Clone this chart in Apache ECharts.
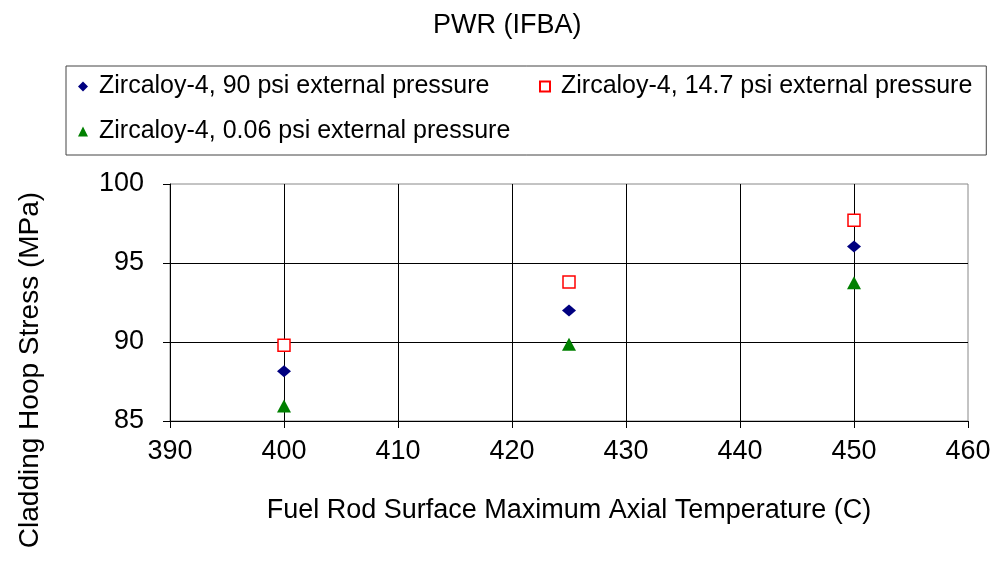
<!DOCTYPE html>
<html>
<head>
<meta charset="utf-8">
<script src="https://cdn.jsdelivr.net/npm/echarts@6/dist/echarts.min.js"></script>
<style>html,body{margin:0;padding:0;background:#fff}#c{width:994px;height:562px}</style>
</head>
<body>
<div id="c"></div>
<script>
var temperatures = [400, 425, 450];
var psi90 = [88.15, 92.0, 96.05];
var psi14 = [89.8, 93.8, 97.7];
var psi006 = [85.95, 89.85, 93.75];
var seriesNames = [
  'Zircaloy-4, 90 psi external pressure',
  'Zircaloy-4, 14.7 psi external pressure',
  'Zircaloy-4, 0.06 psi external pressure'
];
var xTicks = {min: 390, max: 460, interval: 10};
var yTicks = {min: 85, max: 100, interval: 5};
var titleText = 'PWR (IFBA)';
var xName = 'Fuel Rod Surface Maximum Axial Temperature (C)';
var yName = 'Cladding Hoop Stress (MPa)';

function pairs(xs, ys) { return xs.map(function (x, i) { return [x, ys[i]]; }); }

var FONT = 'Liberation Sans, Arial, sans-serif';
var chart = echarts.init(document.getElementById('c'), null, {renderer: 'canvas'});
chart.setOption({
  animation: false,
  backgroundColor: '#fff',
  title: {
    text: titleText, left: 428, top: 7,
    textStyle: {fontFamily: FONT, fontSize: 27, fontWeight: 'normal', color: '#000'}
  },
  legend: {
    left: 66, top: 66, width: 920,
    orient: 'horizontal',
    padding: [3, 14, 6, 12],
    itemGap: 10,
    itemWidth: 10, itemHeight: 10,
    symbolKeepAspect: true,
    borderColor: '#444', borderWidth: 1,
    selectedMode: false,
    textStyle: {fontFamily: FONT, fontSize: 25, color: '#000', lineHeight: 35, padding: [0, 0, 0, 6]},
    data: [
      {name: seriesNames[0], textStyle: {width: 430}},
      {name: seriesNames[1]},
      {name: seriesNames[2]}
    ]
  },
  grid: {left: 170, right: 26, top: 184, bottom: 141, show: true, borderColor: '#888', borderWidth: 1, containLabel: false},
  xAxis: {
    type: 'value', min: xTicks.min, max: xTicks.max, interval: xTicks.interval,
    name: xName, nameLocation: 'middle', nameGap: 76,
    nameTextStyle: {fontFamily: FONT, fontSize: 27, color: '#000'},
    axisLine: {show: true, onZero: false, lineStyle: {color: '#000', width: 1}},
    axisTick: {show: true, inside: false, length: 7, lineStyle: {color: '#000'}},
    axisLabel: {fontFamily: FONT, fontSize: 27, color: '#000', margin: 17},
    splitLine: {show: true, showMinLine: false, showMaxLine: false, lineStyle: {color: '#000', width: 1}}
  },
  yAxis: {
    type: 'value', min: yTicks.min, max: yTicks.max, interval: yTicks.interval,
    axisLine: {show: true, onZero: false, lineStyle: {color: '#000', width: 1}},
    axisTick: {show: true, inside: false, length: 7, lineStyle: {color: '#000'}},
    axisLabel: {fontFamily: FONT, fontSize: 27, color: '#000', margin: 26},
    splitLine: {show: true, showMinLine: false, showMaxLine: false, lineStyle: {color: '#000', width: 1}}
  },
  graphic: [{
    type: 'text', x: 30, y: 370, rotation: Math.PI / 2,
    style: {text: yName, fontFamily: FONT, fontSize: 28, fill: '#000', align: 'center', verticalAlign: 'middle'}
  }],
  series: [
    {name: seriesNames[0], type: 'scatter', symbol: 'diamond', symbolSize: [14, 12],
     itemStyle: {color: '#000080', opacity: 1}, data: pairs(temperatures, psi90), z: 3},
    {name: seriesNames[1], type: 'scatter', symbol: 'rect', symbolSize: 12,
     itemStyle: {color: '#ffffff', borderColor: '#ff0000', borderWidth: 1.5, opacity: 1}, data: pairs(temperatures, psi14), z: 3},
    {name: seriesNames[2], type: 'scatter', symbol: 'triangle', symbolSize: [14, 13],
     itemStyle: {color: '#008000', opacity: 1}, data: pairs(temperatures, psi006), z: 3}
  ]
});
</script>
</body>
</html>
